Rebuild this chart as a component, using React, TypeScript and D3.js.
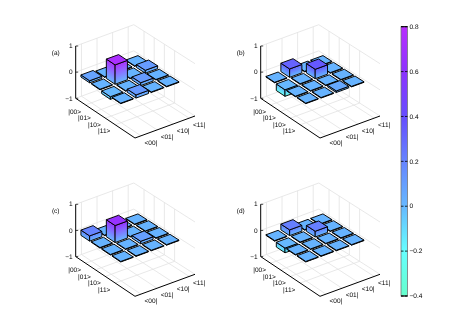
import React from 'react';
import * as d3 from 'd3';

const rowLabels = ['|00>', '|01>', '|10>', '|11>'];
const colLabels = ['<00|', '<01|', '<10|', '<11|'];
const zTicks = [-1, 0, 1];
const barTicks = [-0.4, -0.2, 0, 0.2, 0.4, 0.6, 0.8];

const colorStops = [-0.4, -0.2, 0, 0.2, 0.4, 0.6, 0.8];
const colorValues = ['#66ffcc', '#66ffff', '#66b8ff', '#6684ff', '#664dff', '#8c33ff', '#b82eff'];

const matrixA = [
  [0.08, 0.02, 0.02, 0.02],
  [0.02, 0.74, 0.02, 0.11],
  [-0.1, 0.02, 0.11, 0.02],
  [0.02, 0.12, 0.02, 0.02],
];
const matrixB = [
  [0.02, 0.32, 0.02, 0.02],
  [-0.25, 0.02, 0.36, 0.02],
  [0.02, 0.02, 0.02, 0.02],
  [0.02, 0.02, 0.06, 0.02],
];
const matrixC = [
  [0.2, 0.02, 0.02, 0.02],
  [0.02, 0.65, 0.02, 0.02],
  [0.02, 0.02, 0.1, 0.02],
  [0.02, 0.02, 0.02, 0.02],
];
const matrixD = [
  [0.02, 0.22, 0.02, 0.02],
  [-0.18, 0.02, 0.22, 0.02],
  [0.02, 0.02, 0.02, 0.02],
  [0.02, 0.02, 0.02, 0.02],
];

const panels = [
  { name: '(a)', data: matrixA, dx: 0, dy: 0 },
  { name: '(b)', data: matrixB, dx: 185, dy: 0 },
  { name: '(c)', data: matrixC, dx: 0, dy: 158.3 },
  { name: '(d)', data: matrixD, dx: 185, dy: 158.3 },
];

type Pt = [number, number];

const color = d3.scaleLinear<string>().domain(colorStops).range(colorValues).clamp(true);
const uScale = d3.scaleLinear().domain([0, 6]).range([0, 1]);
const vScale = d3.scaleLinear().domain([0.63, 4.36]).range([0, 1]);
const zScale = d3.scaleLinear().domain([-1, 1]).range([0, -52.3]);
// bar centres sit a little off the tick spacing because of the camera perspective
const rowCentre = d3.scaleLinear().domain([0, 3]).range([1, 4.15]);
const colCentre = d3.scaleLinear().domain([0, 3]).range([1, 3.87]);
const barBase = -0.04;

// floor corners of panel (a)
const LEFT: Pt = [75.7, 98.3];
const FRONT: Pt = [135, 138];
const RIGHT: Pt = [195, 116];
const BACK: Pt = [133.8, 77];

function project(row: number, col: number, z: number): Pt {
  const u = uScale(row);
  const v = vScale(col);
  const x = (1 - u) * (1 - v) * LEFT[0] + u * (1 - v) * FRONT[0] + u * v * RIGHT[0] + (1 - u) * v * BACK[0];
  const y = (1 - u) * (1 - v) * LEFT[1] + u * (1 - v) * FRONT[1] + u * v * RIGHT[1] + (1 - u) * v * BACK[1];
  return [x, y + zScale(z)];
}

const poly = d3.line().curve(d3.curveLinearClosed);
const rowHalf = 0.44;
const colHalf = 0.39;
const fontFamily = '"Liberation Sans", Arial, sans-serif';

function Panel({ name, data, dx, dy, idx }: any) {
  const [r0, r1] = uScale.domain();
  const [c0, c1] = vScale.domain();
  const rowPos = rowLabels.map((_, i) => i + 1);
  const colPos = colLabels.map((_, i) => i + 1);
  const grey = '#e2e2e2';

  const gridLines: [Pt, Pt][] = [];
  rowPos.forEach((r) => {
    gridLines.push([project(r, c0, -1), project(r, c1, -1)]);
    gridLines.push([project(r, c1, -1), project(r, c1, 1)]);
  });
  colPos.forEach((c) => {
    gridLines.push([project(r0, c, -1), project(r1, c, -1)]);
    gridLines.push([project(r0, c, -1), project(r0, c, 1)]);
  });
  zTicks.forEach((z) => {
    gridLines.push([project(r0, c0, z), project(r0, c1, z)]);
    gridLines.push([project(r0, c1, z), project(r1, c1, z)]);
  });

  const cells: { r: number; c: number; v: number }[] = [];
  data.forEach((row: number[], r: number) => row.forEach((v, c) => cells.push({ r, c, v })));
  cells.sort((a, b) => a.r - a.c - (b.r - b.c));

  return (
    <g transform={`translate(${dx},${dy})`} fontFamily={fontFamily} fontSize={6.5} fill="#000" textRendering="geometricPrecision">
      {gridLines.map((l, i) => (
        <line key={i} x1={l[0][0]} y1={l[0][1]} x2={l[1][0]} y2={l[1][1]} stroke={grey} strokeWidth={0.8} />
      ))}
      <path d={poly([project(r0, c0, 1), project(r0, c0, -1), project(r1, c0, -1), project(r1, c1, -1)])!.replace('Z', '')} fill="none" stroke="#000" strokeWidth={1} />
      {zTicks.map((z) => {
        const p = project(r0, c0, z);
        return (
          <text key={z} x={p[0] - 3} y={p[1] + 2.2} textAnchor="end">{z === -1 ? '\u22121' : z}</text>
        );
      })}
      {rowLabels.map((t, i) => {
        const p = project(i + 1, c0, -1);
        return <text key={t} x={p[0] - 11} y={p[1] + 8.7} textAnchor="middle">{t}</text>;
      })}
      {colLabels.map((t, i) => {
        const p = project(r1, i + 1, -1);
        return <text key={t} x={p[0] + 10} y={p[1] + 9} textAnchor="middle">{t}</text>;
      })}
      <text x={55.7} y={54.5} textAnchor="middle">{name}</text>
      {zTicks.map((z) => {
        const p = project(r0, c0, z);
        return <line key={z} x1={p[0]} y1={p[1]} x2={p[0] + 2.5} y2={p[1]} stroke="#000" strokeWidth={0.7} />;
      })}
      {cells.map(({ r, c, v }) => {
        const row = rowCentre(r);
        const col = colCentre(c);
        const top = Math.max(0, v);
        const bot = Math.min(0, v);
        const a = [row - rowHalf, col - colHalf];
        const b = [row + rowHalf, col - colHalf];
        const d = [row + rowHalf, col + colHalf];
        const e = [row - rowHalf, col + colHalf];
        const P = (q: number[], z: number) => project(q[0], q[1], z + barBase);
        const leftFace = [P(a, top), P(b, top), P(b, bot), P(a, bot)];
        const frontFace = [P(b, top), P(d, top), P(d, bot), P(b, bot)];
        const topFace = [P(a, top), P(b, top), P(d, top), P(e, top)];
        const grad = (f: Pt[], id: string) => {
          // gradient runs across the slanted bottom edge of the face
          const [bx, by] = f[3];
          const ex = f[2][0] - f[3][0];
          const ey = f[2][1] - f[3][1];
          const hx = f[0][0] - f[3][0];
          const hy = f[0][1] - f[3][1];
          const len = Math.hypot(ex, ey) || 1;
          const nx = -ey / len;
          const ny = ex / len;
          const h = hx * nx + hy * ny;
          return (
            <linearGradient id={id} gradientUnits="userSpaceOnUse" x1={bx} y1={by} x2={bx + nx * h} y2={by + ny * h}>
              <stop offset="0" stopColor={color(bot)} />
              <stop offset="1" stopColor={color(top)} />
            </linearGradient>
          );
        };
        const key = `${idx}-${r}-${c}`;
        return (
          <g key={key} stroke="#000" strokeWidth={0.95} strokeLinejoin="round">
            <defs>
              {grad(leftFace, `l${key}`)}
              {grad(frontFace, `f${key}`)}
            </defs>
            <path d={poly(leftFace)!} fill={`url(#l${key})`} />
            <path d={poly(frontFace)!} fill={`url(#f${key})`} />
            <path d={poly(topFace)!} fill={color(top)} />
          </g>
        );
      })}
    </g>
  );
}

const barY = d3.scaleLinear().domain([-0.4, 0.8]).range([296, 26.7]);

export default function App() {
  return (
    <svg width={452} height={334} style={{ position: 'absolute', left: 0, top: 0, willChange: 'transform' }}>
      <defs>
        <linearGradient id="cbar" x1="0" y1="1" x2="0" y2="0">
          {colorStops.map((s, i) => (
            <stop key={s} offset={(s + 0.4) / 1.2} stopColor={colorValues[i]} />
          ))}
        </linearGradient>
      </defs>
      {panels.map((p, i) => (
        <Panel key={p.name} idx={i} {...p} />
      ))}
      <rect x={401} y={26.7} width={6.5} height={269.3} fill="url(#cbar)" stroke="#777" strokeWidth={0.8} />
      <line x1={401} x2={407.5} y1={26.7} y2={26.7} stroke="#000" strokeWidth={1} />
      <line x1={401} x2={407.5} y1={296} y2={296} stroke="#000" strokeWidth={1} />
      {barTicks.map((t) => (
        <g key={t} fontFamily={fontFamily} fontSize={6.5} fill="#000" textRendering="geometricPrecision">
          <line x1={401} x2={403.5} y1={barY(t)} y2={barY(t)} stroke="#000" strokeWidth={0.8} />
          <line x1={405} x2={407.5} y1={barY(t)} y2={barY(t)} stroke="#000" strokeWidth={0.8} />
          <text x={409.5} y={barY(t) + 2.2}>{t < 0 ? `\u2212${-t}` : t}</text>
        </g>
      ))}
    </svg>
  );
}
